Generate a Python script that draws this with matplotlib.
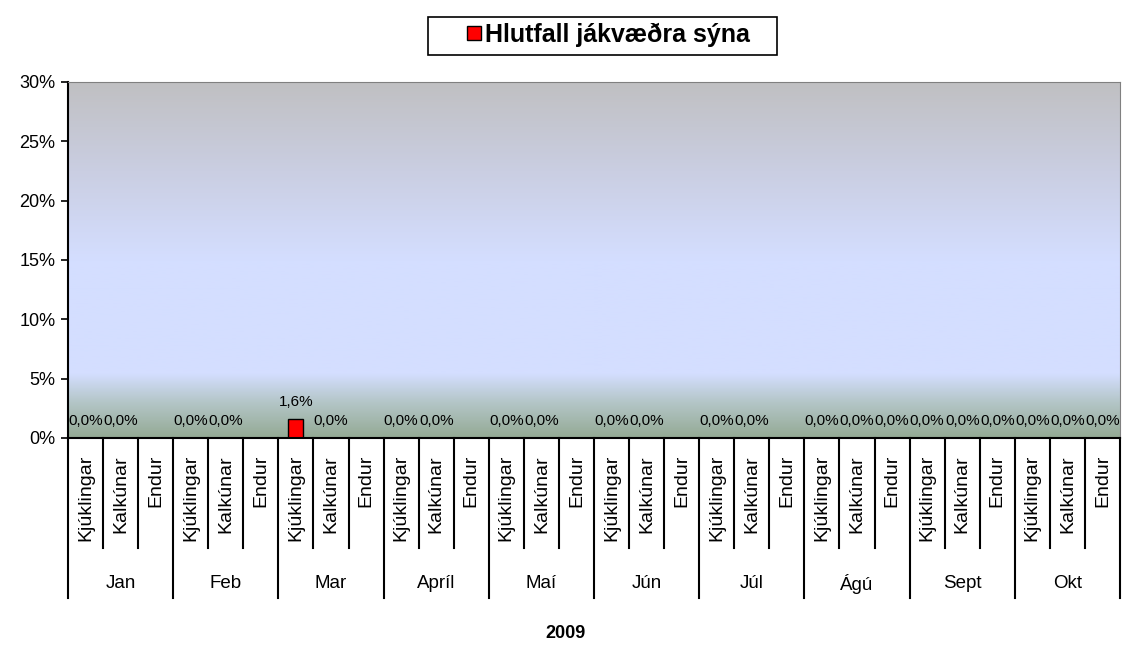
import numpy as np
import matplotlib
matplotlib.use("Agg")
import matplotlib.pyplot as plt
from matplotlib.colors import LinearSegmentedColormap
from matplotlib.patches import Rectangle
from matplotlib.transforms import blended_transform_factory

plt.rcParams['font.family'] = ['Liberation Sans', 'DejaVu Sans']

months = ['Jan', 'Feb', 'Mar', 'Apríl', 'Maí', 'Jún', 'Júl', 'Ágú', 'Sept', 'Okt']
kinds = ['Kjúklingar', 'Kalkúnar', 'Endur']
# hlutfall jákvæðra sýna, % (nan = engin sýni)
kjuklingar = [0.0, 0.0, 1.6, 0.0, 0.0, 0.0, 0.0, 0.0, 0.0, 0.0]
kalkunar = [0.0, 0.0, 0.0, 0.0, 0.0, 0.0, 0.0, 0.0, 0.0, 0.0]
endur = [np.nan, np.nan, np.nan, np.nan, np.nan, np.nan, np.nan, 0.0, 0.0, 0.0]

values = []
for i in range(len(months)):
    values += [kjuklingar[i], kalkunar[i], endur[i]]
values = np.array(values)
x = np.arange(len(values))

fig = plt.figure(figsize=(11.26, 6.47), dpi=100)
ax = fig.add_axes([68/1126, 1-438/647, 1052/1126, 356/647])

# bakgrunnur
cmap = LinearSegmentedColormap.from_list('bg', [
    (0.0, (148/255, 170/255, 148/255)),
    (0.10, (180/255, 198/255, 200/255)),
    (0.18, (212/255, 222/255, 255/255)),
    (0.50, (212/255, 222/255, 255/255)),
    (0.75, (202/255, 206/255, 226/255)),
    (1.0, (192/255, 192/255, 194/255)),
])
grad = np.linspace(0, 1, 256).reshape(-1, 1)
ax.imshow(grad, cmap=cmap, origin='lower', aspect='auto',
          extent=[0, 1, 0, 1], transform=ax.transAxes, zorder=0)

ax.bar(x, np.nan_to_num(values), width=0.43, color='#ff0000',
       edgecolor='black', linewidth=1, zorder=2)
for xi, v in zip(x, values):
    if np.isnan(v):
        continue
    ax.annotate(f"{v:.1f}%".replace('.', ','), (xi, v), xytext=(0, 7),
                textcoords='offset points', ha='center', va='bottom',
                fontsize=11, zorder=3)

ax.set_xlim(-0.5, len(values) - 0.5)
ax.set_ylim(0, 30)
ax.set_yticks(range(0, 31, 5))
ax.set_yticklabels([f"{t}%" for t in range(0, 31, 5)], fontsize=13)
ax.tick_params(axis='y', length=5, width=1.2, direction='out', pad=4)
ax.set_xticks([])
for s in ['top', 'right']:
    ax.spines[s].set_color('#808080')
for s in ['left', 'bottom']:
    ax.spines[s].set_linewidth(1.5)

# flokkaás
tr = blended_transform_factory(ax.transData, ax.transAxes)
for k in range(len(values) + 1):
    y0 = -0.449 if k % 3 == 0 else -0.309
    ax.plot([k - 0.5, k - 0.5], [0, y0], color='black', lw=1.5,
            transform=tr, clip_on=False)
for k in range(len(values)):
    ax.text(k, -0.048, kinds[k % 3], rotation=90, ha='center', va='top',
            fontsize=14, transform=tr)
for m, name in enumerate(months):
    ax.text(3 * m + 1, -0.409, name, ha='center', va='center',
            fontsize=13.5, transform=tr)

fig.text(565/1126, 1 - 633/647, '2009', ha='center', va='center',
         fontsize=13, fontweight='bold')

# skýringarkassi
fig.patches.append(Rectangle((428/1126, 1 - 55/647), 349/1126, 38/647,
                             transform=fig.transFigure, facecolor='white',
                             edgecolor='black', linewidth=1.2))
fig.patches.append(Rectangle((467/1126, 1 - 40/647), 14/1126, 14/647,
                             transform=fig.transFigure, facecolor='#ff0000',
                             edgecolor='black', linewidth=1))
fig.text(485/1126, 1 - 35/647, 'Hlutfall jákvæðra sýna', ha='left',
         va='center', fontsize=18, fontweight='bold')

fig.savefig('out.png', dpi=100)
